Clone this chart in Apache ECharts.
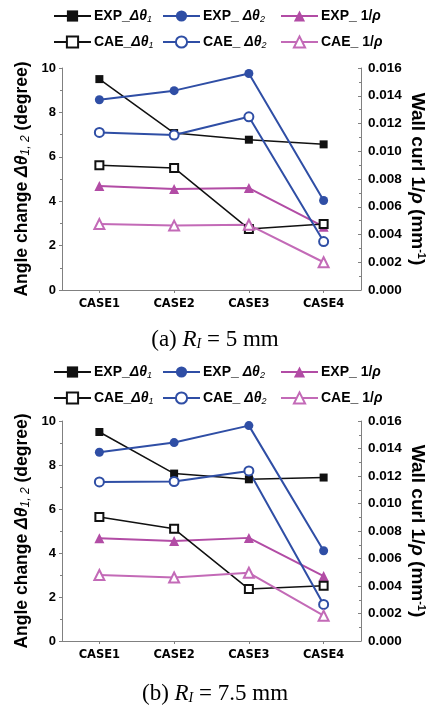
<!DOCTYPE html>
<html>
<head>
<meta charset="utf-8">
<script src="https://cdn.jsdelivr.net/npm/echarts@6/dist/echarts.min.js"></script>
<style>
html, body { margin: 0; padding: 0; background: #fff; }
#main { width: 430px; height: 709px; }
</style>
</head>
<body>
<div id="main"></div>
<script>
const categories = ['CASE1', 'CASE2', 'CASE3', 'CASE4'];
const leftTicks = [0, 2, 4, 6, 8, 10];
const rightTicks = [0, 0.002, 0.004, 0.006, 0.008, 0.010, 0.012, 0.014, 0.016];

// (a) R1 = 5 mm
const expTheta1A = [9.5, 7.07, 6.77, 6.56];
const expTheta2A = [8.57, 8.98, 9.75, 4.03];
const caeTheta1A = [5.62, 5.5, 2.75, 2.97];
const caeTheta2A = [7.1, 6.98, 7.8, 2.18];
const expCurlA = [0.0075, 0.00728, 0.00735, 0.00456];
const caeCurlA = [0.00475, 0.00464, 0.0047, 0.002];

// (b) R1 = 7.5 mm
const expTheta1B = [9.5, 7.61, 7.35, 7.43];
const expTheta2B = [8.58, 9.02, 9.79, 4.1];
const caeTheta1B = [5.64, 5.1, 2.36, 2.51];
const caeTheta2B = [7.23, 7.25, 7.73, 1.66];
const expCurlB = [0.00748, 0.00728, 0.0075, 0.00472];
const caeCurlB = [0.0048, 0.00462, 0.00496, 0.00184];

const names = ['EXP_Δθ1', 'EXP_ Δθ2', 'EXP_ 1/ρ', 'CAE_Δθ1', 'CAE_ Δθ2', 'CAE_ 1/ρ'];
const legendText = {
	'EXP_Δθ1': '{n|EXP_}{i|Δθ}{s|1}',
	'EXP_ Δθ2': '{n|EXP_ }{i|Δθ}{s|2}',
	'EXP_ 1/ρ': '{n|EXP_ 1/}{i|ρ}',
	'CAE_Δθ1': '{n|CAE_}{i|Δθ}{s|1}',
	'CAE_ Δθ2': '{n|CAE_ }{i|Δθ}{s|2}',
	'CAE_ 1/ρ': '{n|CAE_ 1/}{i|ρ}'
};

const BLACK = '#111'
const BLUE = '#2f4ea5'
const PINK = '#b24ca5'
const PINK2 = '#c36ab7'
const AXIS = '#808080'
const FONT = '"Liberation Sans", Arial, sans-serif'

let chart = echarts.init(document.getElementById('main'))

function makeSeries (gi, d) {
	return [
		{ name: names[0], data: d[0], symbol: 'rect', symbolSize: 8, color: BLACK, lineStyle: { width: 1.5 } },
		{ name: names[1], data: d[1], symbol: 'circle', symbolSize: 9, color: BLUE, lineStyle: { width: 2 } },
		{ name: names[2], data: d[2], symbol: 'triangle', symbolSize: 10, color: PINK, lineStyle: { width: 2 }, yAxisIndex: gi * 2 + 1 },
		{ name: names[3], data: d[3], symbol: 'emptyRect', symbolSize: 8, color: BLACK, lineStyle: { width: 1.5 } },
		{ name: names[4], data: d[4], symbol: 'emptyCircle', symbolSize: 9, color: BLUE, lineStyle: { width: 2 } },
		{ name: names[5], data: d[5], symbol: 'emptyTriangle', symbolSize: 10, color: PINK2, lineStyle: { width: 2 }, yAxisIndex: gi * 2 + 1 }
	].map(s => Object.assign({
		type: 'line',
		xAxisIndex: gi,
		yAxisIndex: gi * 2,
		itemStyle: { borderWidth: 1.3 },
		showAllSymbol: true,
		z: 3
	}, s))
}

function makeLegends (row1, row2) {
	let lefts = [53, 162, 280]
	let out = []
	names.forEach((n, i) => {
		out.push({
			data: [n],
			left: lefts[i % 3],
			top: i < 3 ? row1 : row2,
			padding: 0,
			itemWidth: 37,
			itemHeight: 14,
			itemGap: 0,
			selectedMode: false,
			formatter: name => legendText[name],
			textStyle: {
				padding: [0, 0, 0, -2],
				color: '#000',
				rich: {
					n: { fontSize: 14, fontWeight: 'bold', fontFamily: FONT, color: '#000' },
					i: { fontSize: 14, fontStyle: 'italic', fontWeight: 'bold', fontFamily: FONT, color: '#000' },
					s: { fontSize: 9, fontStyle: 'italic', fontFamily: FONT, color: '#000', verticalAlign: 'bottom', padding: [6, 0, 0, 0] }
				}
			}
		})
	})
	return out
}

function nameRich (size) {
	return {
		n: { fontSize: size, fontWeight: 'bold', fontFamily: FONT, color: '#000' },
		i: { fontSize: size, fontWeight: 'bold', fontStyle: 'italic', fontFamily: FONT, color: '#000' },
		s: { fontSize: 12, fontStyle: 'italic', fontFamily: FONT, color: '#000', verticalAlign: 'bottom', padding: [8, 0, 0, 0] },
		sup: { fontSize: 11, fontWeight: 'bold', fontFamily: FONT, color: '#000', verticalAlign: 'top', padding: [0, 0, 8, 0] }
	}
}

function makeY (gi) {
	let common = {
		type: 'value',
		gridIndex: gi,
		min: 0,
		nameLocation: 'middle',
		nameMoveOverlap: false,
		axisLine: { show: true, lineStyle: { color: AXIS, width: 1 } },
		axisTick: { show: true, length: 3, lineStyle: { color: AXIS } },
		minorTick: { show: true, splitNumber: 2, length: 2, lineStyle: { color: AXIS } },
		splitLine: { show: false },
		axisLabel: { color: '#000', fontWeight: 'bold', fontSize: 13, fontFamily: FONT }
	}
	return [
		Object.assign({}, common, {
			max: 10,
			interval: 2,
			name: '{n|Angle change }{i|Δθ}{s|1, 2}{n| (degree)}',
			nameGap: 30,
			nameTextStyle: { rich: nameRich(17.5) },
			axisLabel: Object.assign({}, common.axisLabel, { margin: 6 })
		}),
		Object.assign({}, common, {
			position: 'right',
			max: 0.016,
			interval: 0.002,
			name: '{n|Wall curl 1/}{i|ρ}{n| (mm}{sup|-1}{n|)}',
			nameGap: 47,
			nameRotate: -90,
			nameTextStyle: { rich: nameRich(19) },
			axisTick: Object.assign({}, common.axisTick, { inside: true }),
			minorTick: Object.assign({}, common.minorTick, { inside: true }),
			axisLabel: Object.assign({}, common.axisLabel, { margin: 7, fontSize: 13.5, formatter: v => v.toFixed(3) })
		})
	]
}

function makeX (gi, margin) {
	return {
		type: 'category',
		gridIndex: gi,
		data: categories,
		axisLine: { show: true, lineStyle: { color: AXIS } },
		axisTick: { show: true, alignWithLabel: true, length: 3, lineStyle: { color: AXIS } },
		axisLabel: { color: '#000', fontWeight: 'bold', fontSize: 11.5, fontFamily: '"DejaVu Sans", sans-serif', margin: margin }
	}
}

const SERIF = '"Liberation Serif", "Times New Roman", serif'
const capRich = {
	n: { fontSize: 23, fontFamily: SERIF, fill: '#000' },
	i: { fontSize: 23, fontStyle: 'italic', fontFamily: SERIF, fill: '#000' },
	s: { fontSize: 14, fontStyle: 'italic', fontFamily: SERIF, fill: '#000', verticalAlign: 'bottom', padding: [9, 0, 0, 0] }
}

chart.setOption({
	animation: false,
	backgroundColor: '#fff',
	legend: makeLegends(9, 35).concat(makeLegends(365, 391)),
	grid: [
		{ left: 62, right: 69, top: 68, height: 222, outerBoundsMode: 'none' },
		{ left: 62, right: 69, top: 421, height: 220, outerBoundsMode: 'none' }
	],
	xAxis: [makeX(0, 8), makeX(1, 8)],
	yAxis: makeY(0).concat(makeY(1)),
	series: makeSeries(0, [expTheta1A, expTheta2A, expCurlA, caeTheta1A, caeTheta2A, caeCurlA])
		.concat(makeSeries(1, [expTheta1B, expTheta2B, expCurlB, caeTheta1B, caeTheta2B, caeCurlB])),
	graphic: [
		{ type: 'text', left: 'center', top: 328, style: { text: '{n|(a) }{i|R}{s|I}{n| = 5 mm}', rich: capRich } },
		{ type: 'text', left: 'center', top: 682, style: { text: '{n|(b) }{i|R}{s|I}{n| = 7.5 mm}', rich: capRich } }
	]
})
</script>
</body>
</html>
